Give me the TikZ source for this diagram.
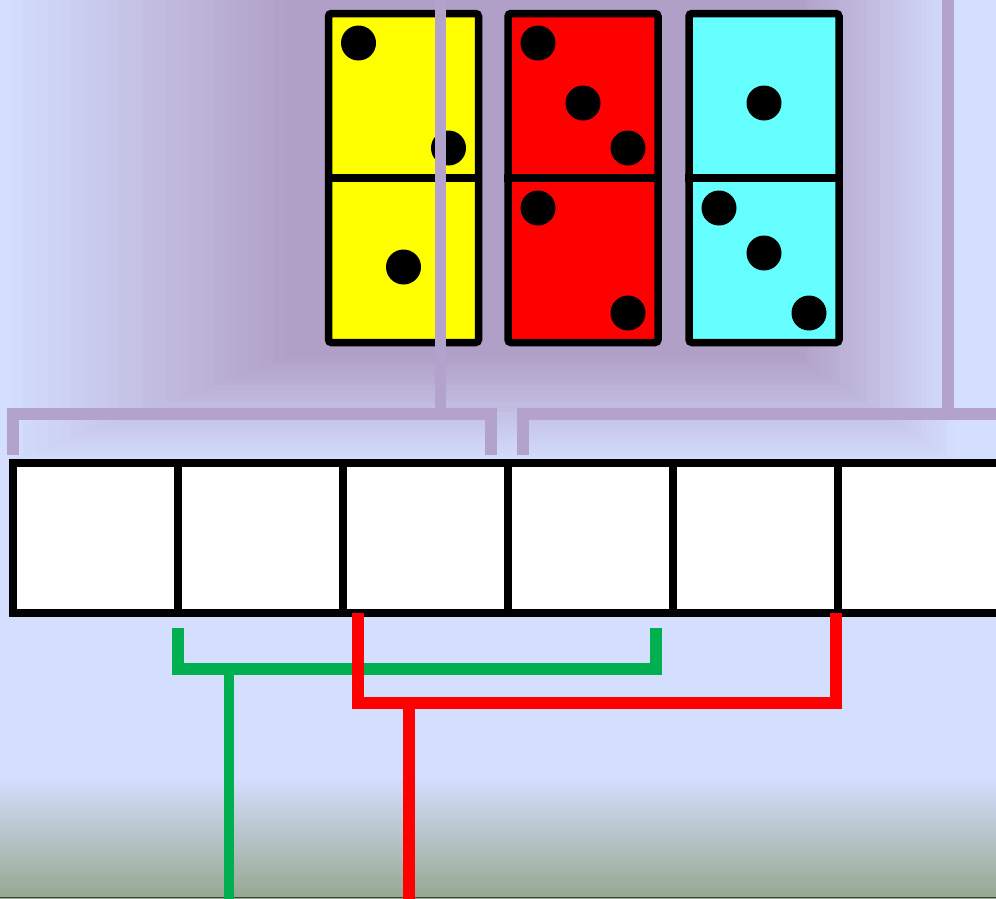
\documentclass[tikz,border=0pt]{standalone}
\usepackage{tikz}
\usetikzlibrary{calc}
\usepackage{xcolor}
\definecolor{SkyBlue}{HTML}{D4DEFE}
\definecolor{GlowPurple}{HTML}{B09FC6}
\definecolor{LilacLine}{HTML}{B3A2CB}
\definecolor{MossGray}{HTML}{95A890}
\definecolor{PairGreen}{HTML}{00B050}
\definecolor{PairRed}{HTML}{FF0000}
\definecolor{TileYellow}{HTML}{FFFF00}
\definecolor{TileCyan}{HTML}{66FFFF}

\begin{document}
\begin{tikzpicture}[x=1pt,y=-1pt,
    tile/.style={rectangle,rounded corners=3pt,draw=black,line width=7.5pt,
                 minimum width=150pt,minimum height=329pt,inner sep=0pt},
    slot/.style={rectangle,draw=black,fill=white,line width=8pt,
                 minimum width=165pt,minimum height=150pt,inner sep=0pt},
    bracket/.style={LilacLine,line width=11.5pt},
    pairline/.style={line width=12pt}]
  \useasboundingbox (0,0) rectangle (996,898);
  \fill[SkyBlue] (0,0) rectangle (996,898);
  % soft glow behind the tiles
  \foreach \k in {0,...,24}{
    \pgfmathtruncatemacro{\mix}{100*\k/24}
    \fill[GlowPurple!\mix!SkyBlue]
      ({285-11.9*(24-\k)},-10) rectangle ({800+6.7*(24-\k)},{358+4.5*(24-\k)});
  }
  \shade[top color=SkyBlue,bottom color=MossGray] (0,777) rectangle (996,898);
  \draw[black!75,line width=1.2pt] (0,897.4) -- (996,897.4);

  \node[tile,fill=TileYellow] (ytile) at (403.5,178) {};
  \node[tile,fill=PairRed] (rtile) at (583,178) {};
  \node[tile,fill=TileCyan] (ctile) at (764,178) {};
  \foreach \t in {ytile,rtile,ctile}
    \draw[line width=7.5pt] (\t.west) -- (\t.east);
  \foreach \px/\py in {-45/-135,45/-30,0/89}
    \fill ($(ytile)+(\px,\py)$) circle[radius=17.5];
  \foreach \px/\py in {-45/-135,0/-75,45/-30,-45/30,45/135}
    \fill ($(rtile)+(\px,\py)$) circle[radius=17.5];
  \foreach \px/\py in {0/-75,-45/30,0/75,45/135}
    \fill ($(ctile)+(\px,\py)$) circle[radius=17.5];

  \coordinate (ltop) at (440.5,-5);
  \coordinate (lfoot) at (440.5,420);
  \coordinate (rtop) at (948,-5);
  \coordinate (rfoot) at (948,420);
  \coordinate (la) at (13,455);
  \coordinate (lb) at (491,455);
  \coordinate (ra) at (523,455);
  \coordinate (rb) at (1003,455);
  \coordinate (barline) at (0,414);
  \draw[bracket] (la) |- (lb |- barline) -- (lb);
  \draw[bracket] (ra) |- (rb |- barline) -- (rb);
  \draw[bracket] (ltop) -- (lfoot);
  \draw[bracket] (rtop) -- (rfoot);

  \foreach \i in {1,...,6}
    \node[slot] (c\i) at ({13+165*(\i-0.5)},538) {};

  \coordinate (ga) at (178,628);
  \coordinate (gb) at (656,628);
  \coordinate (gbar) at (229,669);
  \coordinate (gend) at (229,900);
  \draw[pairline,PairGreen] (ga) |- (gb |- gbar) -- (gb);
  \draw[PairGreen,line width=10pt] (gbar) -- (gend);

  \coordinate (ra1) at (358,613);
  \coordinate (rb1) at (836,613);
  \coordinate (rbar) at (409,703);
  \coordinate (rend) at (409,900);
  \draw[pairline,PairRed] (ra1) |- (rb1 |- rbar) -- (rb1);
  \draw[pairline,PairRed] (rbar) -- (rend);
\end{tikzpicture}
\end{document}
